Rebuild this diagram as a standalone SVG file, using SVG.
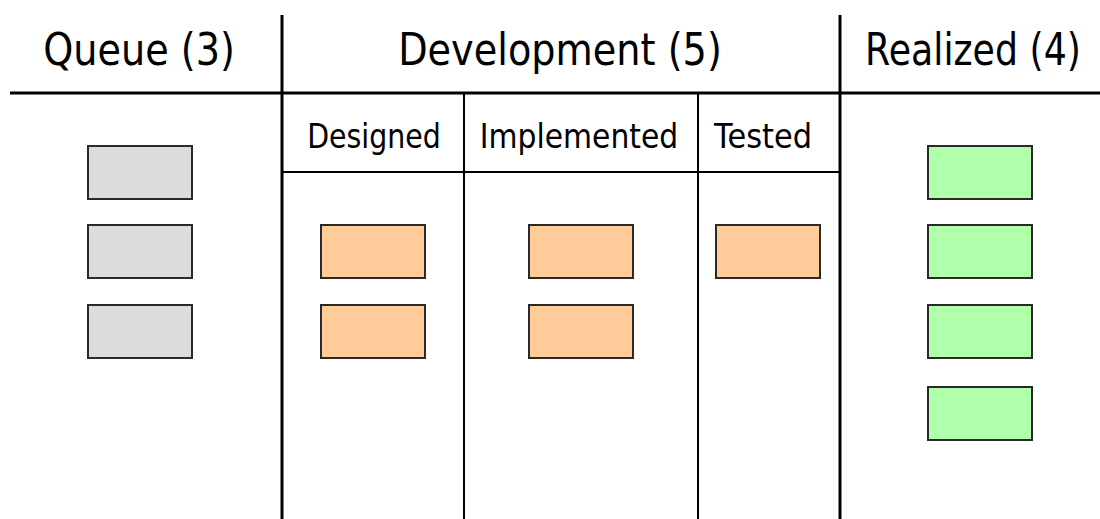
<svg xmlns="http://www.w3.org/2000/svg" width="1100" height="519" viewBox="0 0 1100 519">
<style>
.bg{fill:#ffffff}
.line{stroke:#000;fill:none}
.main{stroke-width:3}
.sub{stroke-width:2}
.card{stroke:#2a2a2a;stroke-width:2}
.queue{fill:#dddddd}
.dev{fill:#ffcc99}
.done{fill:#b0ffaa}
.h1{font-family:"DejaVu Sans",sans-serif;font-size:45px;fill:#000;text-anchor:middle}
.h2{font-family:"DejaVu Sans",sans-serif;font-size:33px;fill:#000;text-anchor:middle}
</style>
<rect class="bg" x="0" y="0" width="1100" height="519"/>
<g id="connectors">
  <line class="line main" x1="10" y1="93" x2="1100" y2="93"/>
  <line class="line main" x1="282" y1="15" x2="282" y2="519"/>
  <line class="line main" x1="840" y1="15" x2="840" y2="519"/>
  <line class="line sub" x1="282" y1="172" x2="840" y2="172"/>
  <line class="line sub" x1="464" y1="93" x2="464" y2="519"/>
  <line class="line sub" x1="698" y1="93" x2="698" y2="519"/>
</g>
<g id="headers">
  <text class="h1" x="0" y="0" transform="translate(139,65) scale(0.83,1)" textLength="231" lengthAdjust="spacingAndGlyphs">Queue (3)</text>
  <text class="h1" x="0" y="0" transform="translate(560,65) scale(0.83,1)" textLength="390" lengthAdjust="spacingAndGlyphs">Development (5)</text>
  <text class="h1" x="0" y="0" transform="translate(973,65) scale(0.83,1)" textLength="260" lengthAdjust="spacingAndGlyphs">Realized (4)</text>
  <text class="h2" x="0" y="0" transform="translate(374,148) scale(0.83,1)" textLength="161" lengthAdjust="spacingAndGlyphs">Designed</text>
  <text class="h2" x="0" y="0" transform="translate(579,148) scale(0.83,1)" textLength="239" lengthAdjust="spacingAndGlyphs">Implemented</text>
  <text class="h2" x="0" y="0" transform="translate(763,148) scale(0.83,1)" textLength="118" lengthAdjust="spacingAndGlyphs">Tested</text>
</g>
<g id="queue-1"><rect class="card queue" x="88" y="146" width="104" height="53"/></g>
<g id="queue-2"><rect class="card queue" x="88" y="225" width="104" height="53"/></g>
<g id="queue-3"><rect class="card queue" x="88" y="305" width="104" height="53"/></g>
<g id="designed-1"><rect class="card dev" x="321" y="225" width="104" height="53"/></g>
<g id="designed-2"><rect class="card dev" x="321" y="305" width="104" height="53"/></g>
<g id="implemented-1"><rect class="card dev" x="529" y="225" width="104" height="53"/></g>
<g id="implemented-2"><rect class="card dev" x="529" y="305" width="104" height="53"/></g>
<g id="tested-1"><rect class="card dev" x="716" y="225" width="104" height="53"/></g>
<g id="realized-1"><rect class="card done" x="928" y="146" width="104" height="53"/></g>
<g id="realized-2"><rect class="card done" x="928" y="225" width="104" height="53"/></g>
<g id="realized-3"><rect class="card done" x="928" y="305" width="104" height="53"/></g>
<g id="realized-4"><rect class="card done" x="928" y="387" width="104" height="53"/></g>
</svg>
